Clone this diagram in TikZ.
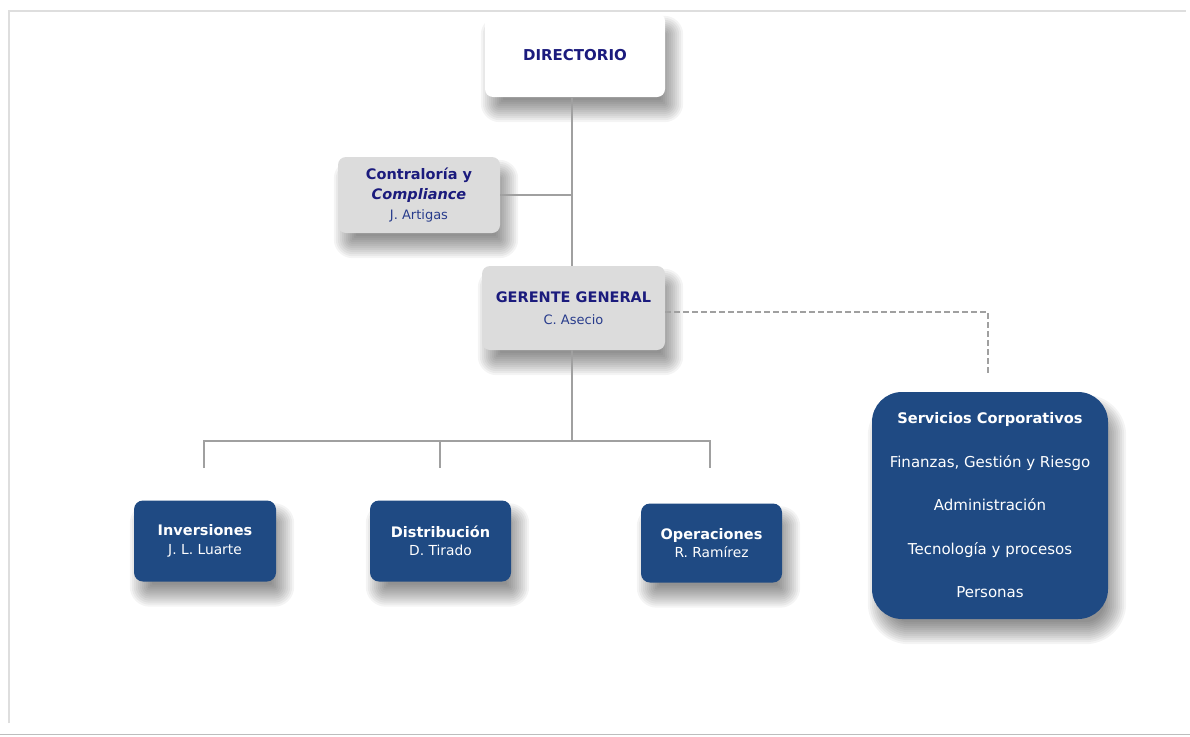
\documentclass[tikz,border=0pt]{standalone}
\usepackage{fontspec}
\setmainfont{DejaVu Sans}
\usetikzlibrary{backgrounds}
\definecolor{navy}{RGB}{27,27,125}
\definecolor{namecol}{RGB}{40,60,140}
\definecolor{boxblue}{RGB}{31,74,131}
\definecolor{boxgrey}{RGB}{220,220,220}
\definecolor{linegrey}{RGB}{160,160,160}
\definecolor{framegrey}{RGB}{222,222,222}
\tikzset{
  whitebox/.style={fill=white,rounded corners=8pt,align=center,inner sep=0pt},
  greybox/.style={fill=boxgrey,rounded corners=8pt,align=center,inner sep=0pt},
  bluebox/.style={fill=boxblue,rounded corners=9pt,align=center,inner sep=0pt,text=white},
  conn/.style={draw=linegrey,line width=2pt},
  dconn/.style={draw=linegrey,line width=2pt,dash pattern=on 6pt off 3pt},
  shadowlayer/.style={fill=black,opacity=0.045},
}
\newcommand{\nmg}[1]{{\fontsize{13}{15}\selectfont\mdseries #1}}
\newcommand{\nmb}[1]{{\fontsize{13.8}{15}\selectfont\mdseries #1}}
% soft shadow: node name, corner radius
\newcommand{\softshadow}[2]{%
  \foreach \d in {-11,-9,...,11} {%
    \pgfmathsetmacro{\rr}{max(1,#2+\d)}%
    \fill[shadowlayer,rounded corners=\rr pt]
      ([shift={(7-\d,14-\d)}]#1.north west) rectangle ([shift={(7+\d,14+\d)}]#1.south east);
  }%
}
\begin{document}
\begin{tikzpicture}[x=1pt,y=-1pt]
\useasboundingbox (0,0) rectangle (1190,736);
% nodes
\node[whitebox,minimum width=180pt,minimum height=84pt,text=navy,font=\fontsize{15}{17}\selectfont\bfseries] (dir) at (575,55) {DIRECTORIO};
\node[greybox,minimum width=162pt,minimum height=76pt,text=navy,font=\fontsize{14.5}{20}\selectfont\bfseries] (con) at (419,195)
  {Contraloría y\\\textit{Compliance}\\\textcolor{namecol}{\nmg{J. Artigas}}};
\node[greybox,minimum width=183pt,minimum height=84pt,text=navy,font=\fontsize{14.5}{22}\selectfont\bfseries] (ger) at (573.5,308)
  {GERENTE GENERAL\\\textcolor{namecol}{\nmg{C. Asecio}}};
\node[bluebox,minimum width=142pt,minimum height=81pt,font=\fontsize{14.5}{18.5}\selectfont\bfseries] (inv) at (205,541)
  {Inversiones\\\nmb{J. L. Luarte}};
\node[bluebox,minimum width=141pt,minimum height=81pt,font=\fontsize{14.5}{18.5}\selectfont\bfseries] (dis) at (440.5,541)
  {Distribución\\\nmb{D. Tirado}};
\node[bluebox,minimum width=141pt,minimum height=79pt,font=\fontsize{14.5}{18.5}\selectfont\bfseries] (ope) at (711.5,543)
  {Operaciones\\\nmb{R. Ramírez}};
\node[bluebox,rounded corners=30pt,minimum width=236pt,minimum height=227pt,font=\fontsize{15}{43.5}\selectfont] (ser) at (990,505.5)
  {{\fontsize{14.6}{43.5}\selectfont\textbf{Servicios Corporativos}}\\Finanzas, Gestión y Riesgo\\Administración\\Tecnología y procesos\\Personas};
% background: page, frame, shadows
\begin{scope}[on background layer]
\fill[white] (0,0) rectangle (1190,736);
\draw[framegrey,line width=1.5pt] (9,723) -- (9,11) -- (1186,11);
\draw[framegrey!85!black,line width=1pt] (0,734) -- (1190,734);
\softshadow{dir}{8}
\softshadow{con}{8}
\softshadow{ger}{8}
\softshadow{inv}{9}
\softshadow{dis}{9}
\softshadow{ope}{9}
\softshadow{ser}{30}
\end{scope}
% connectors
\coordinate (bus) at (572,441);
\coordinate (busL) at (204,441);
\coordinate (busM) at (440,441);
\coordinate (busR) at (710,441);
\coordinate (tL) at (204,468);
\coordinate (tM) at (440,468);
\coordinate (tR) at (710,468);
\coordinate (dcor) at (988,312);
\coordinate (dend) at (988,375);
\draw[conn] (dir.south -| bus) -- (ger.north -| bus);
\draw[conn] (con.east) -- (con.east -| bus);
\draw[conn] (ger.south -| bus) -- (bus);
\draw[conn] (tL) -- (busL) -- (busR) -- (tR);
\draw[conn] (busM) -- (tM);
\draw[dconn] (ger.east |- dcor) -- (dcor) -- (dend);
\end{tikzpicture}
\end{document}
